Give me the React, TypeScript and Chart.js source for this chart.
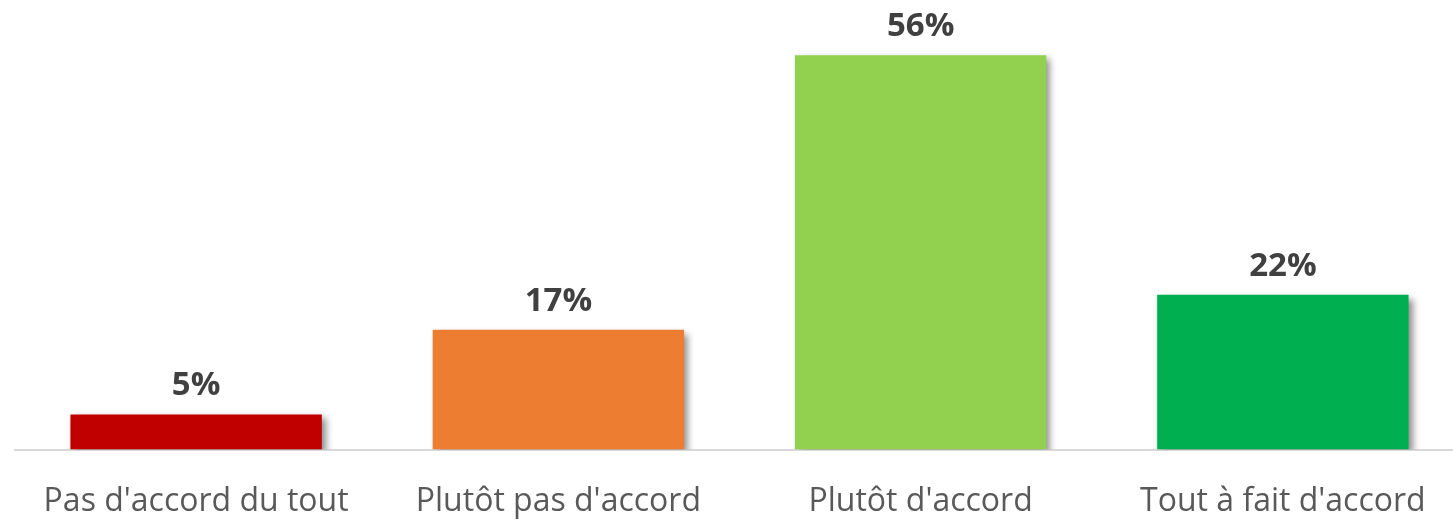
import React, { useEffect, useRef } from "react";
import { Chart, registerables } from "chart.js";

Chart.register(...registerables);

const categories = ["Pas d'accord du tout", "Plutôt pas d'accord", "Plutôt d'accord", "Tout à fait d'accord"];
const values = [5, 17, 56, 22];
const valueLabels = ["5%", "17%", "56%", "22%"];
const barColors = ["#C00000", "#ED7D31", "#92D050", "#00B050"];

const FONT = "'Open Sans', 'DejaVu Sans', sans-serif";

const shadowPlugin = {
  id: "barShadow",
  beforeDatasetDraw(chart: any) {
    const ctx = chart.ctx;
    ctx.save();
    ctx.shadowColor = "rgba(0,0,0,0.45)";
    ctx.shadowBlur = 7;
    ctx.shadowOffsetX = 4;
    ctx.shadowOffsetY = 4;
  },
  afterDatasetDraw(chart: any) {
    chart.ctx.restore();
  },
};

const valueLabelPlugin = {
  id: "valueLabels",
  afterDatasetsDraw(chart: any) {
    const ctx = chart.ctx;
    const meta = chart.getDatasetMeta(0);
    ctx.save();
    ctx.font = `bold 33px ${FONT}`;
    ctx.fillStyle = "#404040";
    ctx.textAlign = "center";
    ctx.textBaseline = "alphabetic";
    meta.data.forEach((bar: any, i: number) => {
      ctx.fillText(valueLabels[i], bar.x, bar.y - 19);
    });
    ctx.restore();
  },
};

export default function App() {
  const ref = useRef<HTMLCanvasElement>(null);
  useEffect(() => {
    if (!ref.current) return;
    const chart = new Chart(ref.current, {
      type: "bar",
      data: {
        labels: categories,
        datasets: [
          {
            data: values,
            backgroundColor: barColors,
            borderWidth: 0,
            barPercentage: 0.694,
            categoryPercentage: 1,
          },
        ],
      },
      options: {
        responsive: false,
        maintainAspectRatio: false,
        animation: false,
        layout: { padding: { left: 15, right: 0, top: 27, bottom: 0 } },
        plugins: { legend: { display: false }, tooltip: { enabled: false } },
        scales: {
          y: { display: false, min: 0, max: 60 },
          x: {
            grid: { display: false, drawTicks: false },
            border: { display: true, color: "#d9d9d9", width: 2 },
            ticks: {
              color: "#595959",
              font: { family: FONT, size: 32 },
              padding: 33,
              maxRotation: 0,
              autoSkip: false,
            },
          },
        },
      },
      plugins: [shadowPlugin, valueLabelPlugin],
    });
    return () => chart.destroy();
  }, []);
  return (
    <div style={{ position: "fixed", left: 0, top: 0, width: 1453, height: 522, overflow: "hidden", background: "#fff" }}>
      <canvas ref={ref} width={1464} height={554} style={{ display: "block" }} />
    </div>
  );
}
